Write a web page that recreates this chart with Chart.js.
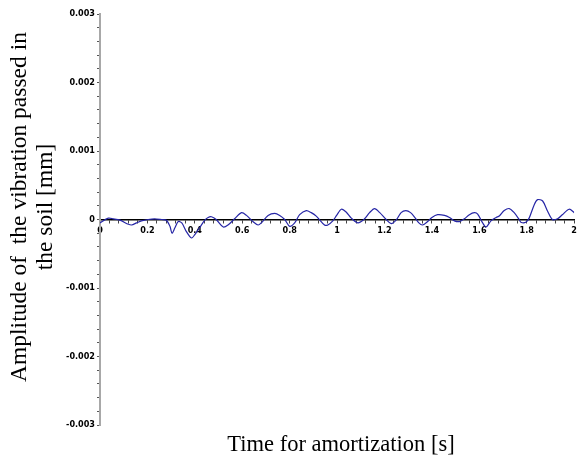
<!DOCTYPE html>
<html>
<head>
<meta charset="utf-8">
<title>Amplitude of the vibration passed in the soil</title>
<script src="https://cdn.jsdelivr.net/npm/chart.js@4"></script>
<style>
  body { margin: 0; background: #fff; }
  canvas { display: block; }
</style>
</head>
<body>
<canvas id="vibrationChart" width="580" height="464"></canvas>
<script>
// Values: time [s] and amplitude [mm]
const timeS = [
    0.000, 0.035, 0.056, 0.084, 0.120, 0.133, 0.154, 0.175, 0.203, 0.230,
    0.260, 0.280, 0.295, 0.304, 0.316, 0.330, 0.345, 0.365, 0.386, 0.400,
    0.420, 0.442, 0.456, 0.470, 0.490, 0.520, 0.540, 0.568, 0.597, 0.618,
    0.645, 0.667, 0.680, 0.709, 0.737, 0.758, 0.779, 0.800, 0.821, 0.842,
    0.870, 0.891, 0.912, 0.947, 0.961, 0.982, 0.998, 1.018, 1.038, 1.060,
    1.088, 1.116, 1.137, 1.158, 1.180, 1.207, 1.228, 1.249, 1.270, 1.290,
    1.310, 1.330, 1.345, 1.360, 1.382, 1.400, 1.424, 1.453, 1.474, 1.495,
    1.516, 1.537, 1.558, 1.579, 1.593, 1.614, 1.628, 1.649, 1.671, 1.684,
    1.705, 1.726, 1.747, 1.768, 1.775, 1.796, 1.810, 1.832, 1.846, 1.867,
    1.888, 1.908, 1.930, 1.950, 1.979, 2.000
];
const amplitudeMm = [
    -0.00005, 0.00002, 0.00001, -0.00001, -0.00007, -0.00008, -0.00005, -0.00002, 0.00000, 0.00001,
    0.00000, -0.00001, -0.00010, -0.00020, -0.00012, -0.00003, -0.00005, -0.00018, -0.00027, -0.00022,
    -0.00012, -0.00001, 0.00003, 0.00004, 0.00000, -0.00011, -0.00008, 0.00001, 0.00010, 0.00006,
    -0.00003, -0.00008, -0.00005, 0.00006, 0.00009, 0.00006, 0.00000, -0.00010, -0.00005, 0.00007,
    0.00013, 0.00010, 0.00005, -0.00008, -0.00008, -0.00002, 0.00006, 0.00015, 0.00011, 0.00002,
    -0.00005, 0.00001, 0.00010, 0.00016, 0.00010, 0.00000, -0.00006, -0.00001, 0.00010, 0.00013,
    0.00010, 0.00002, -0.00005, -0.00008, -0.00003, 0.00003, 0.00007, 0.00006, 0.00003, -0.00002,
    -0.00003, 0.00001, 0.00007, 0.00010, 0.00008, -0.00005, -0.00011, -0.00002, 0.00003, 0.00005,
    0.00013, 0.00016, 0.00010, 0.00000, -0.00004, -0.00004, 0.00002, 0.00022, 0.00029, 0.00027,
    0.00012, 0.00000, 0.00001, 0.00007, 0.00015, 0.00010
];

// Axis ranges and steps
const xRange = [0, 2];
const xMinorStep = 0.04;
const xLabelEvery = 0.2;
const yRange = [-0.003, 0.003];
const yMinorStep = 0.0002;
const yLabelEvery = 0.001;

const xTitle = "Time for amortization [s]";
const yTitle = ["Amplitude of  the vibration passed in", "the soil [mm]"];

const tickFont = { family: "'Liberation Sans Narrow', 'Arial Narrow', 'DejaVu Sans Condensed', sans-serif", size: 9, weight: 'bold', style: 'condensed' };

function isMultiple(value, step) {
    const r = value / step;
    return Math.abs(r - Math.round(r)) < 1e-6;
}

// Axis titles drawn as canvas text
const axisTitles = {
    id: 'axisTitles',
    afterDraw(chart) {
        const ctx = chart.ctx;
        const area = chart.chartArea;
        ctx.save();
        ctx.fillStyle = '#000';
        ctx.textAlign = 'center';
        ctx.textBaseline = 'middle';
        ctx.font = "22.5px 'Liberation Serif', 'Times New Roman', serif";
        ctx.fillText(xTitle, 341, 445);
        ctx.font = "23.5px 'Liberation Serif', 'Times New Roman', serif";
        ctx.translate(0, 207);
        ctx.rotate(-Math.PI / 2);
        ctx.fillText(yTitle[0], 0, 20);
        ctx.fillText(yTitle[1], 0, 46);
        ctx.restore();
    }
};

new Chart(document.getElementById("vibrationChart"), {
    type: 'line',
    data: {
        datasets: [{
            data: timeS.map((t, i) => ({ x: t, y: amplitudeMm[i] })),
            borderColor: '#2626a6',
            borderWidth: 1.2,
            pointRadius: 0,
            tension: 0.3,
            fill: false
        }]
    },
    options: {
        responsive: false,
        animation: false,
        layout: { padding: { top: 14, right: 5, bottom: 39, left: 0 } },
        plugins: { legend: { display: false }, tooltip: { enabled: false } },
        scales: {
            x: {
                type: 'linear',
                position: { y: 0 },
                min: xRange[0],
                max: xRange[1],
                border: { color: '#000', width: 1.5 },
                grid: { drawOnChartArea: false, color: '#444', tickLength: 3 },
                ticks: {
                    stepSize: xMinorStep,
                    maxTicksLimit: 100,
                    autoSkip: false,
                    maxRotation: 0,
                    padding: 3,
                    color: '#000',
                    font: tickFont,
                    callback: v => isMultiple(v, xLabelEvery) ? String(Math.round(v * 10) / 10) : ''
                }
            },
            y: {
                type: 'linear',
                position: 'left',
                min: yRange[0],
                max: yRange[1],
                afterFit: scale => { scale.width = 100; },
                border: { color: '#a8a8a8', width: 2 },
                grid: { drawOnChartArea: false, color: '#555', tickLength: 3 },
                ticks: {
                    stepSize: yMinorStep,
                    maxTicksLimit: 100,
                    autoSkip: false,
                    padding: 2,
                    color: '#000',
                    font: tickFont,
                    callback: v => isMultiple(v, yLabelEvery) ? String(Math.round(v * 1000) / 1000) : ''
                }
            }
        }
    },
    plugins: [axisTitles]
});
</script>
</body>
</html>
